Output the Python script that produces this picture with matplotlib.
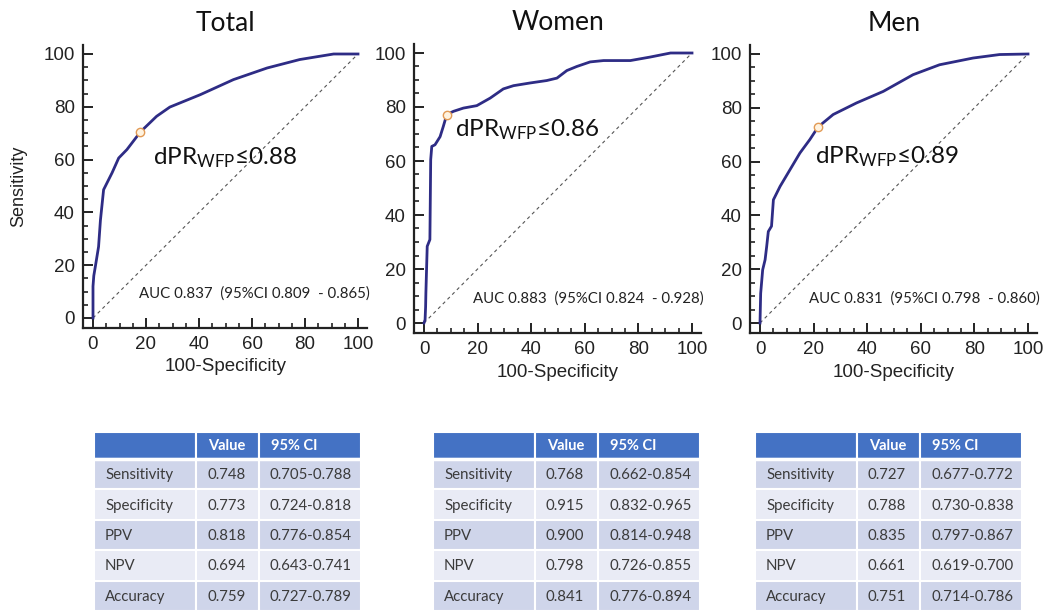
import matplotlib
matplotlib.use("Agg")
import matplotlib.pyplot as plt
from matplotlib.patches import Rectangle
from matplotlib.ticker import MultipleLocator

plt.rcParams['mathtext.fontset'] = 'custom'
plt.rcParams['mathtext.rm'] = 'Lato'
plt.rcParams['mathtext.it'] = 'Lato:italic'
plt.rcParams['mathtext.bf'] = 'Lato:bold'

# ---- data ----
titles = ['Total', 'Women', 'Men']

total_fpr = [0, 0, 0.3, 0.9, 2.1, 2.8, 4.0, 4.7, 7.2, 9.7, 12.8, 17.9, 24.0, 29.0, 40.5, 53.0, 65.7, 78.0, 90.8, 100]
total_tpr = [0, 12, 16, 19.6, 27, 37, 48.6, 50, 55, 60.6, 63.8, 70.5, 76.4, 79.9, 84.6, 90.3, 94.7, 97.9, 100, 100]

women_fpr = [0, 0.4, 0.6, 0.7, 1.2, 2.2, 2.5, 2.9, 4.1, 6.0, 7.2, 8.5, 11.0, 14.7, 19.7, 24.7, 29.6, 33.4,
             39.6, 45.8, 49.6, 53.3, 57.0, 62.0, 67.0, 77.0, 84.4, 92.0, 100]
women_tpr = [0, 1.2, 6, 11, 28.4, 30.9, 60.5, 65.4, 66, 69, 72.8, 77.2, 78.4, 79.6, 80.5, 83.3, 86.7, 87.9,
             88.9, 89.8, 90.7, 93.5, 95, 96.7, 97.2, 97.2, 98.5, 100, 100]

men_fpr = [0, 0.25, 1.0, 1.9, 2.5, 3.1, 4.3, 5.0, 7.5, 11.2, 14.9, 18.6, 21.7, 27.3, 36.0, 46.0, 57.1, 67.0, 79.5, 89.4, 100]
men_tpr = [0, 11, 19.8, 23.5, 28.5, 34, 36, 45.8, 50.8, 57, 63.2, 68.2, 72.9, 77.5, 81.8, 86.1, 92.3, 96, 98.5, 99.8, 100]

curves_fpr = [total_fpr, women_fpr, men_fpr]
curves_tpr = [total_tpr, women_tpr, men_tpr]

cut_fpr = [17.9, 8.5, 21.7]
cut_tpr = [70.5, 77.2, 72.9]
cut_vals = ['0.88', '0.86', '0.89']
cut_label_xy = [(22.6, 58), (11.6, 69), (20.5, 59.5)]

auc_texts = ['AUC 0.837  (95%CI 0.809  - 0.865)',
             'AUC 0.883  (95%CI 0.824  - 0.928)',
             'AUC 0.831  (95%CI 0.798  - 0.860)']

row_names = ['Sensitivity', 'Specificity', 'PPV', 'NPV', 'Accuracy']
total_value = ['0.748', '0.773', '0.818', '0.694', '0.759']
total_ci = ['0.705-0.788', '0.724-0.818', '0.776-0.854', '0.643-0.741', '0.727-0.789']
women_value = ['0.768', '0.915', '0.900', '0.798', '0.841']
women_ci = ['0.662-0.854', '0.832-0.965', '0.814-0.948', '0.726-0.855', '0.776-0.894']
men_value = ['0.727', '0.788', '0.835', '0.661', '0.751']
men_ci = ['0.677-0.772', '0.730-0.838', '0.797-0.867', '0.619-0.700', '0.714-0.786']
table_values = [total_value, women_value, men_value]
table_cis = [total_ci, women_ci, men_ci]

# ---- layout (pixels) ----
W, H = 1046, 611
# x=0, x=100, y=0, y=100 pixel positions for each panel
panel_px = [(93, 358, 318, 54), (424, 692, 323, 53), (760, 1028, 323, 54)]
xlim = (-3.7, 103.5)
ylim = (-3.6, 103.5)
table_left = [94, 433, 755]
col_w = [102, 63, 102]
table_top = 432
header_h = 27
row_h = 30.4

curve_color = '#2E2C85'
tick_font = 'Liberation Sans'
text_font = ['Lato', 'DejaVu Sans']

fig = plt.figure(figsize=(W / 100, H / 100), dpi=100)

for i in range(3):
    x0, x100, y0, y100 = panel_px[i]
    sx = (x100 - x0) / 100
    sy = (y0 - y100) / 100
    left = x0 + xlim[0] * sx
    right = x0 + xlim[1] * sx
    bot = y0 - ylim[0] * sy
    top = y0 - ylim[1] * sy
    ax = fig.add_axes([left / W, (H - bot) / H, (right - left) / W, (bot - top) / H])

    ax.plot([0, 100], [0, 100], color='#555555', lw=0.8, dashes=(3, 3))
    ax.plot(curves_fpr[i], curves_tpr[i], color=curve_color, lw=2.0)
    ax.plot(cut_fpr[i], cut_tpr[i], 'o', ms=6, mfc='#FFF3E0', mec='#E29A55', mew=1.0)

    ax.set_xlim(*xlim)
    ax.set_ylim(*ylim)
    for s in ['top', 'right']:
        ax.spines[s].set_visible(False)
    for s in ['left', 'bottom']:
        ax.spines[s].set_linewidth(1.6)
        ax.spines[s].set_color('#222222')
    ax.set_xticks([0, 20, 40, 60, 80, 100])
    ax.set_yticks([0, 20, 40, 60, 80, 100])
    ax.xaxis.set_minor_locator(MultipleLocator(5))
    ax.yaxis.set_minor_locator(MultipleLocator(5))
    ax.tick_params(which='major', direction='in', length=7, width=1.4, color='#222222', pad=6)
    ax.tick_params(which='minor', direction='in', length=3.5, width=1.2, color='#222222')
    for lab in ax.get_xticklabels() + ax.get_yticklabels():
        lab.set_fontfamily(tick_font)
        lab.set_fontsize(13.5)
        lab.set_color('#222222')

    ax.set_xlabel('100-Specificity', fontfamily=tick_font, fontsize=13.5, color='#222222', labelpad=4)
    if i == 0:
        ax.set_ylabel('Sensitivity', fontfamily=tick_font, fontsize=13, color='#222222', labelpad=12)
    ax.set_title(titles[i], fontfamily=text_font, fontsize=19, pad=10, color='#111111')

    lx, ly = cut_label_xy[i]
    ax.text(lx, ly, r'dPR$_{\mathrm{WFP}}$' + '\u2264' + cut_vals[i], fontfamily=text_font,
            fontsize=17.5, color='#111111')
    ax.text(104.5, 7.5, auc_texts[i], fontfamily=text_font, fontsize=10.8, ha='right',
            color='#222222')

# ---- tables ----
tax = fig.add_axes([0, 0, 1, 1])
tax.set_xlim(0, W)
tax.set_ylim(H, 0)
tax.axis('off')

header_color = '#4472C4'
row_colors = ['#CFD5EA', '#E9EBF5']
body_color = '#3B3B3B'

for t in range(3):
    xs = [table_left[t]]
    for w in col_w:
        xs.append(xs[-1] + w)
    rows = [['', 'Value', '95% CI']]
    for r in range(5):
        rows.append([row_names[r], table_values[t][r], table_cis[t][r]])
    for r, row in enumerate(rows):
        if r == 0:
            yt = table_top
            h = header_h
            fc = header_color
        else:
            yt = table_top + header_h + (r - 1) * row_h
            h = row_h
            fc = row_colors[(r - 1) % 2]
        for c in range(3):
            tax.add_patch(Rectangle((xs[c], yt), col_w[c], h, facecolor=fc,
                                    edgecolor='white', lw=1.5))
            if r == 0:
                tax.text(xs[c] + 12, yt + h / 2 + 1, row[c], fontfamily=text_font, fontsize=10.5,
                         fontweight='bold', color='white', va='center', ha='left')
            else:
                tax.text(xs[c] + 11, yt + h / 2 + 1, row[c], fontfamily=text_font, fontsize=10.8,
                         color=body_color, va='center', ha='left')
    # thicker white line under header
    tax.plot([xs[0], xs[-1]], [table_top + header_h, table_top + header_h], color='white', lw=2.5)

fig.savefig('out.png', dpi=100)
